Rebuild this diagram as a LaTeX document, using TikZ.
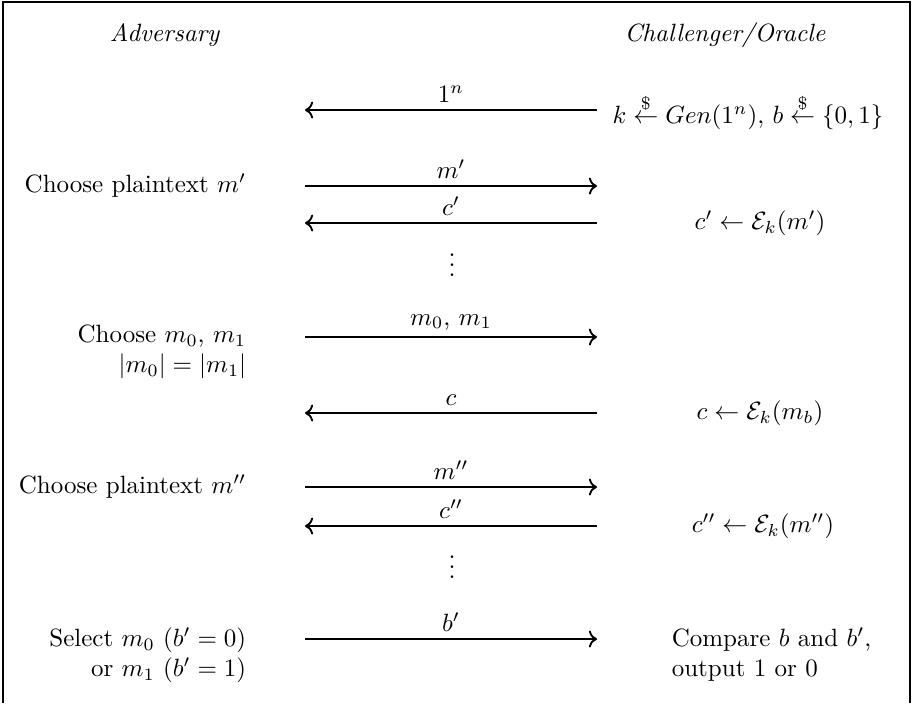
\documentclass[tikz,border=0pt]{standalone}
\usepackage{amsmath,amssymb}
\usetikzlibrary{arrows.meta,positioning}
\begin{document}
\begin{tikzpicture}[x=0.4pt, y=-0.4pt, msg/.style={above, inner sep=2.5pt}, flow/.style={line width=0.75pt}, advtext/.style={anchor=east, align=right}, chaltext/.style={anchor=center}, dots/.style={inner sep=0pt}]
    \useasboundingbox (0,0) rectangle (913,703);
    \draw[line width=0.5pt] (3,703) -- (3,2) -- (910,2) -- (910,703);
    \node (adversary) at (165,35) {\textit{Adversary}};
    \node (challenger) at (725,35) {\textit{Challenger/Oracle}};
    \coordinate (a1) at (305,110); \coordinate (c1) at (597,110);
    \coordinate (a2) at (305,186); \coordinate (c2) at (597,186);
    \coordinate (a3) at (305,223); \coordinate (c3) at (597,223);
    \coordinate (a4) at (305,337); \coordinate (c4) at (597,337);
    \coordinate (a5) at (305,413); \coordinate (c5) at (597,413);
    \coordinate (a6) at (305,487); \coordinate (c6) at (597,487);
    \coordinate (a7) at (305,526); \coordinate (c7) at (597,526);
    \coordinate (a8) at (305,639); \coordinate (c8) at (597,639);
    \node[chaltext] (keygen) at (748,112) {$k \overset{\$}{\leftarrow} Gen(1^n),\, b \overset{\$}{\leftarrow} \{0,1\}$};
    \node[advtext] (choose1) at (255,186) {Choose plaintext $m'$};
    \node[chaltext] (enc1) at (760,223) {$c' \leftarrow \mathcal{E}_k(m')$};
    \node[dots] (dots1) at (452,258) {$\vdots$};
    \node[advtext] (choose2) at (255,352) {Choose $m_0$, $m_1$\\ $|m_0| = |m_1|$};
    \node[chaltext] (enc2) at (760,413) {$c \leftarrow \mathcal{E}_k(m_b)$};
    \node[advtext] (choose3) at (255,487) {Choose plaintext $m''$};
    \node[chaltext] (enc3) at (763,526) {$c'' \leftarrow \mathcal{E}_k(m'')$};
    \node[dots] (dots2) at (452,560) {$\vdots$};
    \node[advtext] (select) at (255,655) {Select $m_0$ ($b' = 0$)\\ or $m_1$ ($b' = 1$)};
    \node[anchor=west, align=left] (compare) at (663,655) {Compare $b$ and $b'$,\\ output 1 or 0};
    \draw[flow, <-] (a1) -- node[msg] {$1^n$} (c1);
    \draw[flow, ->] (a2) -- node[msg] {$m'$} (c2);
    \draw[flow, <-] (a3) -- node[msg] {$c'$} (c3);
    \draw[flow, ->] (a4) -- node[msg] {$m_0$, $m_1$} (c4);
    \draw[flow, <-] (a5) -- node[msg] {$c$} (c5);
    \draw[flow, ->] (a6) -- node[msg] {$m''$} (c6);
    \draw[flow, <-] (a7) -- node[msg] {$c''$} (c7);
    \draw[flow, ->] (a8) -- node[msg] {$b'$} (c8);
  \end{tikzpicture}
\end{document}
